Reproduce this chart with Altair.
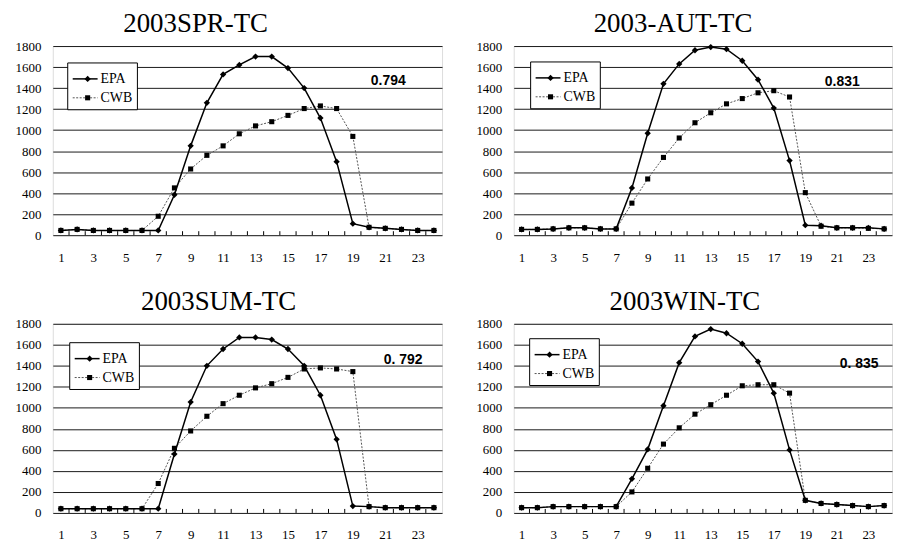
import altair as alt
import pandas as pd

hours = list(range(1, 25))
series_names = ["EPA", "CWB"]
titles = ["2003SPR-TC", "2003-AUT-TC", "2003SUM-TC", "2003WIN-TC"]
corr_labels = ["0.794", "0.831", "0. 792", "0. 835"]
x_tick_labels = [1, 3, 5, 7, 9, 11, 13, 15, 17, 19, 21, 23]
y_tick_values = [0, 200, 400, 600, 800, 1000, 1200, 1400, 1600, 1800]

spr_epa = [45, 55, 45, 45, 45, 45, 45, 385, 850, 1260, 1530, 1620, 1700, 1700, 1590, 1400, 1115, 700, 110, 75, 65, 55, 45, 45]
spr_cwb = [45, 55, 45, 45, 45, 45, 180, 450, 630, 760, 850, 965, 1040, 1080, 1140, 1205, 1230, 1205, 940, 75, 65, 55, 45, 45]
aut_epa = [55, 55, 60, 70, 70, 60, 60, 450, 970, 1440, 1630, 1760, 1790, 1770, 1660, 1480, 1210, 710, 95, 90, 70, 70, 70, 60]
aut_cwb = [55, 55, 60, 70, 70, 60, 60, 305, 535, 740, 925, 1070, 1165, 1250, 1300, 1355, 1375, 1315, 405, 85, 70, 70, 65, 60]
sum_epa = [40, 40, 40, 40, 40, 40, 40, 560, 1055, 1400, 1560, 1670, 1670, 1650, 1560, 1400, 1120, 700, 65, 60, 50, 50, 50, 50]
sum_cwb = [40, 40, 40, 40, 40, 40, 280, 615, 780, 920, 1040, 1120, 1190, 1230, 1290, 1370, 1380, 1370, 1345, 60, 50, 50, 50, 50]
win_epa = [50, 50, 60, 60, 60, 60, 60, 325, 605, 1020, 1430, 1680, 1750, 1710, 1610, 1440, 1140, 600, 120, 90, 80, 70, 60, 70]
win_cwb = [50, 50, 60, 60, 60, 60, 60, 200, 425, 655, 810, 940, 1030, 1120, 1210, 1220, 1220, 1140, 120, 90, 80, 70, 60, 70]

tick_positions = [h + 0.5 for h in hours[:-1]]

SERIF = "Liberation Serif"
SANS = "Liberation Sans"
H = 190


def panel(title, epa, cwb, corr, width, title_dx, leg_xy, corr_xy):
    df = pd.DataFrame({
        "hour": hours * 2,
        "value": epa + cwb,
        "series": [series_names[0]] * 24 + [series_names[1]] * 24,
    })
    xenc = alt.X(
        "hour:Q",
        scale=alt.Scale(domain=[0.5, 24.5], nice=False, zero=False),
        axis=alt.Axis(values=x_tick_labels, title=None, grid=False, ticks=False,
                      domain=False, labelPadding=16, labelFontSize=13, labelFont=SERIF,
                      labelColor="black", labelFlush=False, labelOverlap=False, format="d"),
    )
    yenc = alt.Y(
        "value:Q",
        scale=alt.Scale(domain=[0, 1800], nice=False, zero=True),
        axis=alt.Axis(values=y_tick_values, title=None, grid=True, gridColor="#1a1a1a",
                      gridWidth=1, ticks=False, domain=False, labelPadding=12,
                      labelFontSize=13, labelFont=SERIF, labelColor="black", format="d",
                      labelFlush=False, labelOverlap=False, minExtent=44, maxExtent=44),
    )
    base = alt.Chart(df)
    cwb_line = base.transform_filter(alt.datum.series == "CWB").mark_line(
        color="#555555", strokeWidth=1, strokeDash=[2, 1.5]).encode(x=xenc, y=yenc)
    cwb_pts = base.transform_filter(alt.datum.series == "CWB").mark_point(
        shape="square", filled=True, size=26, color="black", opacity=1).encode(x=xenc, y=yenc)
    epa_line = base.transform_filter(alt.datum.series == "EPA").mark_line(
        color="black", strokeWidth=1.5).encode(x=xenc, y=yenc)
    epa_pts = base.transform_filter(alt.datum.series == "EPA").mark_point(
        shape="diamond", filled=True, size=40, color="black", opacity=1).encode(x=xenc, y=yenc)

    ticks = alt.Chart(pd.DataFrame({"hour": tick_positions})).mark_rule(
        color="black", strokeWidth=1).encode(
        x=xenc, y=alt.value(H), y2=alt.value(H - 4))

    lx, ly = leg_xy
    one_epa = alt.Data(values=[{"s": series_names[0]}])
    one_cwb = alt.Data(values=[{"s": series_names[1]}])
    box = alt.Chart(one_epa).mark_rect(fill="white", stroke="black", strokeWidth=1).encode(
        x=alt.value(lx), x2=alt.value(lx + 70), y=alt.value(ly), y2=alt.value(ly + 47))
    l1 = alt.Chart(one_epa).mark_rule(color="black", strokeWidth=1.5).encode(
        x=alt.value(lx + 5), x2=alt.value(lx + 30), y=alt.value(ly + 16))
    p1 = alt.Chart(one_epa).mark_point(shape="diamond", filled=True, size=40, color="black", opacity=1).encode(
        x=alt.value(lx + 20), y=alt.value(ly + 16))
    t1 = alt.Chart(one_epa).mark_text(align="left", baseline="middle", font=SERIF, fontSize=14, color="black").encode(
        x=alt.value(lx + 33), y=alt.value(ly + 16), text="s:N")
    l2 = alt.Chart(one_cwb).mark_rule(color="#555555", strokeWidth=1, strokeDash=[2, 1.5]).encode(
        x=alt.value(lx + 5), x2=alt.value(lx + 30), y=alt.value(ly + 35))
    p2 = alt.Chart(one_cwb).mark_point(shape="square", filled=True, size=26, color="black", opacity=1).encode(
        x=alt.value(lx + 20), y=alt.value(ly + 35))
    t2 = alt.Chart(one_cwb).mark_text(align="left", baseline="middle", font=SERIF, fontSize=14, color="black").encode(
        x=alt.value(lx + 33), y=alt.value(ly + 35), text="s:N")

    cx, cy = corr_xy
    ctext = alt.Chart(alt.Data(values=[{"r": corr}])).mark_text(
        align="center", baseline="middle", font=SANS, fontSize=14, fontWeight="bold", color="black").encode(
        x=alt.value(cx), y=alt.value(cy), text="r:N")

    return alt.layer(
        cwb_line, epa_line, cwb_pts, epa_pts, ticks, box, l1, p1, t1, l2, p2, t2, ctext
    ).properties(
        width=width, height=H,
        title=alt.TitleParams(title, font=SERIF, fontSize=27, fontWeight="normal", color="black",
                              anchor="middle", frame="group", dx=title_dx, offset=2),
    )


c1 = panel(titles[0], spr_epa, spr_cwb, corr_labels[0], 391, -52, (15, 17), (337, 35))
c2 = panel(titles[1], aut_epa, aut_cwb, corr_labels[1], 380, -30, (17, 16), (330, 36))
c3 = panel(titles[2], sum_epa, sum_cwb, corr_labels[2], 391, -29, (17, 19), (352, 36))
c4 = panel(titles[3], win_epa, win_cwb, corr_labels[3], 380, -18, (16, 15), (347, 40))

row1 = alt.hconcat(c1, c2, spacing=26)
row2 = alt.hconcat(c3, c4, spacing=26)
chart = alt.vconcat(row1, row2, spacing=22).properties(padding=0).configure_view(
    stroke="black", strokeWidth=1).configure(background="white")

chart.save("out.html", embed_options={"renderer": "svg", "actions": False})
